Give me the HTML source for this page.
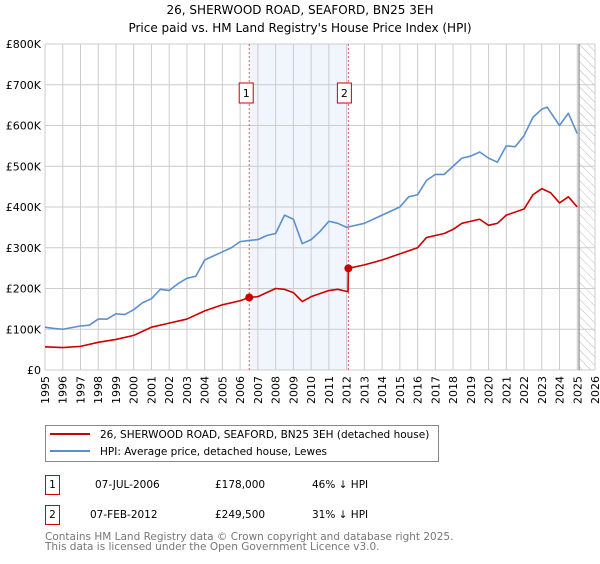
<!DOCTYPE html>
<html><head><meta charset="utf-8"><style>
body{margin:0;background:#fff;width:600px;height:560px;overflow:hidden;font-family:"DejaVu Sans","Liberation Sans",sans-serif}
svg text{font-family:"DejaVu Sans","Liberation Sans",sans-serif}
</style></head><body>
<svg id="c" width="600" height="560">
<text x="300" y="14" text-anchor="middle" font-size="12">26, SHERWOOD ROAD, SEAFORD, BN25 3EH</text>
<text x="300" y="32" text-anchor="middle" font-size="12">Price paid vs. HM Land Registry's House Price Index (HPI)</text>
<g id="grid"></g><g id="series"></g>
<g>
<rect x="45.5" y="425.5" width="393" height="36" fill="#fff" stroke="#888"/>
<line x1="50" y1="434" x2="90" y2="434" stroke="#cc0000" stroke-width="2"/>
<text x="100" y="438" font-size="10.5">26, SHERWOOD ROAD, SEAFORD, BN25 3EH (detached house)</text>
<line x1="50" y1="451" x2="90" y2="451" stroke="#5b8fd0" stroke-width="2"/>
<text x="100" y="455" font-size="10.5">HPI: Average price, detached house, Lewes</text>
</g>
<g font-size="10.5">
<rect x="45.5" y="475.5" width="14" height="19" fill="#fff" stroke="#cc0000"/><text x="52.5" y="488" text-anchor="middle">1</text>
<text x="95" y="488">07-JUL-2006</text><text x="215" y="488">£178,000</text><text x="312" y="488">46% ↓ HPI</text>
<rect x="45.5" y="505.5" width="14" height="19" fill="#fff" stroke="#cc0000"/><text x="52.5" y="518" text-anchor="middle">2</text>
<text x="90" y="518">07-FEB-2012</text><text x="215" y="518">£249,500</text><text x="312" y="518">31% ↓ HPI</text>
</g>
<text x="45" y="540" font-size="10.5" fill="#777">Contains HM Land Registry data © Crown copyright and database right 2025.</text>
<text x="45" y="550" font-size="10.5" fill="#777">This data is licensed under the Open Government Licence v3.0.</text>
</svg>
<script>
const yearTicks=[1995,1996,1997,1998,1999,2000,2001,2002,2003,2004,2005,2006,2007,2008,2009,2010,2011,2012,2013,2014,2015,2016,2017,2018,2019,2020,2021,2022,2023,2024,2025,2026];
const valueTicks=[0,100,200,300,400,500,600,700,800];
const valueLabels=["£0","£100K","£200K","£300K","£400K","£500K","£600K","£700K","£800K"];
const hpiYears=[1995,1995.5,1996,1997,1997.5,1998,1998.5,1999,1999.5,2000,2000.5,2001,2001.5,2002,2002.5,2003,2003.5,2004,2004.5,2005,2005.5,2006,2006.5,2007,2007.5,2008,2008.5,2009,2009.5,2010,2010.5,2011,2011.5,2012,2013,2014,2015,2015.5,2016,2016.5,2017,2017.5,2018,2018.5,2019,2019.5,2020,2020.5,2021,2021.5,2022,2022.5,2023,2023.3,2024,2024.5,2025];
const hpiValues=[105,102,100,108,110,125,125,138,136,148,165,175,198,195,212,225,230,270,280,290,300,315,318,320,330,335,380,370,310,320,340,365,360,350,360,380,400,425,430,465,480,480,500,520,525,535,520,510,550,548,575,620,640,645,600,630,580];
const priceYears=[1995,1996,1997,1998,1999,2000,2001,2002,2003,2004,2005,2006,2006.5,2007,2008,2008.5,2009,2009.5,2010,2011,2011.5,2012.08,2012.1,2013,2014,2015,2016,2016.5,2017,2017.5,2018,2018.5,2019,2019.5,2020,2020.5,2021,2022,2022.5,2023,2023.5,2024,2024.5,2025];
const priceValues=[57,55,58,68,75,85,105,115,125,145,160,170,178,180,200,198,190,168,180,195,198,192,249.5,258,270,285,300,325,330,335,345,360,365,370,355,360,380,395,430,445,435,410,425,400];
const saleYears=[2006.51,2012.1];
const saleValues=[178,249.5];
const saleLabels=["1","2"];
const NS="http://www.w3.org/2000/svg";
const X0=45,X1=595,Y0=370,Y1=44;
const xs=y=>X0+(y-1995)/(2026-1995)*(X1-X0);
const ys=v=>Y0-v/800*(Y0-Y1);
function el(t,a,p){const e=document.createElementNS(NS,t);for(const k in a)e.setAttribute(k,a[k]);p.appendChild(e);return e;}
const g=document.getElementById('grid'),s=document.getElementById('series');
// shaded region
const sh=el('rect',{x:xs(saleYears[0]),y:Y1,width:xs(saleYears[1])-xs(saleYears[0]),height:Y0-Y1,fill:'#eef3fc',opacity:0.8},g);


// hatch
const defs=el('defs',{},g);
const pat=el('pattern',{id:'h',width:6,height:6,patternUnits:'userSpaceOnUse',patternTransform:'rotate(-45)'},defs);
el('line',{x1:0,y1:0,x2:0,y2:6,stroke:'#bbb','stroke-width':1},pat);
const hx=xs(2025.1);
const hr=el('rect',{x:hx,y:Y1,width:X1-hx,height:Y0-Y1,fill:'url(#h)'},g);


yearTicks.forEach(yr=>{
  el('line',{x1:xs(yr),y1:Y1,x2:xs(yr),y2:Y0,stroke:'#ccc'},g);
  const t=el('text',{x:0,y:0,'font-size':11,'text-anchor':'end',transform:`translate(${xs(yr)+4},${Y0+6}) rotate(-90)`},g);
  t.textContent=yr;
  
  
});
valueTicks.forEach((v,i)=>{
  el('line',{x1:X0,y1:ys(v),x2:X1,y2:ys(v),stroke:'#ccc'},g);
  const t=el('text',{x:X0-4,y:ys(v)+4,'font-size':11,'text-anchor':'end'},g);
  t.textContent=valueLabels[i];
  
  
});
el('line',{x1:hx,y1:Y1,x2:hx,y2:Y0,stroke:'#888','stroke-width':1.2},g);
saleYears.forEach((yr,i)=>{
  el('line',{x1:xs(yr),y1:Y1,x2:xs(yr),y2:Y0,stroke:'#e06060','stroke-dasharray':'2,2'},g);
  const bx=xs(yr)-10+(i==0?-0:-1);
  el('rect',{x:bx,y:83,width:14,height:20,fill:'#fff',stroke:'#cc0000'},g);
  const t=el('text',{x:bx+7,y:97,'font-size':11,'text-anchor':'middle'},g);
  t.textContent=saleLabels[i];
  
  
});
function line(xa,va,c,name){
  const p=el('polyline',{points:xa.map((x,i)=>xs(x)+','+ys(va[i])).join(' '),fill:'none',stroke:c,'stroke-width':1.6,'stroke-linejoin':'round'},s);
  
  
}
line(hpiYears,hpiValues,'#5b8fd0','hpi-line');
line(priceYears,priceValues,'#cc0000','price-paid-line');
saleYears.forEach((yr,i)=>{
  const c=el('circle',{cx:xs(yr),cy:ys(saleValues[i]),r:4,fill:'#cc0000'},s);
  
  
});
</script>
</body></html>
